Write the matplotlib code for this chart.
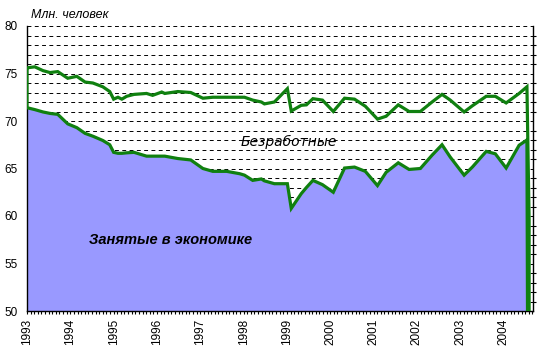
import numpy as np
import matplotlib
matplotlib.use("Agg")
import matplotlib.pyplot as plt
from matplotlib.ticker import MultipleLocator, FixedLocator

# decimal years and values (mln. people)
years = [1993.0, 1993.18, 1993.37, 1993.53, 1993.71, 1993.94, 1994.15, 1994.34,
         1994.52, 1994.75, 1994.91, 1995.0, 1995.1, 1995.19, 1995.3, 1995.47,
         1995.76, 1995.9, 1996.11, 1996.18, 1996.48, 1996.78, 1997.06, 1997.29,
         1997.61, 1997.91, 1998.02, 1998.21, 1998.41, 1998.48, 1998.71, 1999.01,
         1999.1, 1999.33, 1999.45, 1999.6, 1999.82, 2000.07, 2000.33, 2000.56,
         2000.81, 2001.09, 2001.29, 2001.57, 2001.82, 2002.08, 2002.35, 2002.58,
         2002.77, 2003.09, 2003.28, 2003.6, 2003.81, 2004.06, 2004.36, 2004.54,
         2004.59]
employed = [71.4, 71.2, 70.95, 70.8, 70.7, 69.7, 69.3, 68.7,
            68.4, 67.95, 67.5, 66.7, 66.6, 66.6, 66.65, 66.7,
            66.3, 66.3, 66.3, 66.3, 66.05, 65.9, 65.0, 64.7,
            64.7, 64.45, 64.3, 63.75, 63.9, 63.7, 63.4, 63.4,
            60.8, 62.35, 63.0, 63.75, 63.3, 62.5, 65.05, 65.15,
            64.7, 63.2, 64.6, 65.6, 64.9, 65.0, 66.4, 67.5,
            66.2, 64.3, 65.15, 66.8, 66.55, 65.05, 67.45, 68.0,
            0.0]
active = [75.6, 75.7, 75.3, 75.1, 75.2, 74.5, 74.7, 74.1,
          74.0, 73.6, 73.1, 72.3, 72.5, 72.3, 72.6, 72.8,
          72.9, 72.7, 73.05, 72.9, 73.1, 73.0, 72.4, 72.5,
          72.5, 72.5, 72.5, 72.2, 72.0, 71.8, 72.0, 73.4,
          71.05, 71.65, 71.7, 72.35, 72.2, 71.0, 72.4, 72.3,
          71.55, 70.2, 70.5, 71.7, 71.0, 71.0, 72.0, 72.8,
          72.2, 70.95, 71.6, 72.6, 72.6, 71.9, 72.9, 73.6,
          59.6]
year_labels = [str(y) for y in range(1993, 2005)]

t = np.array(years)
emp = np.array(employed)
act = np.array(active)

fig = plt.figure(figsize=(5.48, 3.59), dpi=100)
ax = fig.add_axes([27/548, 48/359, 506/548, 285/359])

green = "#108010"
blue = "#9999ff"

# dashed gridlines under the area
for v in range(51, 81):
    ax.axhline(v, color="black", lw=0.7, ls=(0, (4, 3.5)), zorder=1)

ax.fill_between(t, 0, emp, facecolor=blue, edgecolor="none", zorder=2)
ax.fill_between(t, emp, act, facecolor="none", edgecolor=green, lw=2.3,
                zorder=3, joinstyle="miter")

ax.set_xlim(1993, 2004.68)
ax.set_ylim(50, 80)

ax.spines["top"].set_visible(False)
for s in ["left", "bottom", "right"]:
    ax.spines[s].set_color("black")
    ax.spines[s].set_linewidth(1.0)

ax.yaxis.set_major_locator(MultipleLocator(5))
ax.tick_params(axis="y", which="major", left=False, length=0, pad=7,
               labelsize=8.5)
ax.yaxis.set_minor_locator(MultipleLocator(1))
ax.tick_params(axis="y", which="minor", left=False, right=True,
               direction="out", length=2.5, width=0.8)

ax.xaxis.set_major_locator(FixedLocator(range(1993, 2005)))
ax.set_xticklabels(year_labels, rotation=90, fontsize=8.5)
ax.xaxis.set_minor_locator(MultipleLocator(1/12))
ax.tick_params(axis="x", which="both", direction="out", length=2.5,
               width=0.8, pad=3)

for lab in ax.get_xticklabels() + ax.get_yticklabels():
    lab.set_family("Liberation Sans")

fig.text(31/548, 1 - 15/359, "Млн. человек", family="Liberation Sans",
         style="italic", fontsize=9, va="center", ha="left")
ax.text(1999.04, 67.8, "Безработные", family="DejaVu Sans", style="italic",
        fontsize=10, ha="center", va="center", zorder=4)
ax.text(1996.32, 57.5, "Занятые в экономике", family="Liberation Sans",
        style="italic", weight="bold", fontsize=10.5, ha="center",
        va="center", zorder=4)

fig.savefig("out.png", dpi=100)
